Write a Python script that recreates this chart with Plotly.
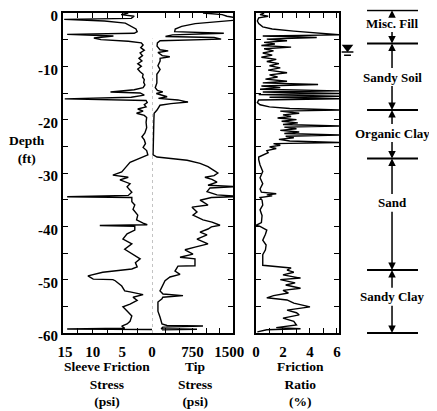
import plotly.graph_objects as go

# ---- values (depth in ft, negative downward) ----
fs_depth = [0.0, -0.3, -0.6, -1.0, -1.2, -1.5, -1.9, -2.4, -3.0, -3.5, -3.8, -4.0, -4.3, -4.7, -5.0,
            -5.3, -5.6, -6.0, -6.5, -7.0, -7.5, -8.0, -8.5, -9.0, -9.5, -10.0, -10.5, -11.0, -11.5,
            -12.0, -12.5, -13.0, -13.5, -14.0, -14.4, -14.8, -15.0, -15.4, -15.8, -16.1, -16.4, -16.8,
            -17.2, -17.6, -18.0, -18.4, -18.8, -19.2, -19.6, -20.5, -21.5, -22.5, -23.2, -23.8, -24.5,
            -25.2, -25.8, -26.6, -27.5, -28.0, -28.9, -29.8, -30.4, -30.8, -31.3, -32.0, -32.6, -33.6,
            -34.2, -34.45, -34.6, -35.4, -36.0, -36.8, -37.9, -38.8, -39.4, -39.7, -39.85, -40.0, -40.7,
            -41.4, -42.4, -43.3, -44.3, -45.2, -46.1, -46.8, -47.6, -48.0, -48.4, -48.6, -49.3, -49.5,
            -49.9, -50.0, -50.2, -51.2, -52.1, -52.3, -52.8, -53.3, -53.9, -54.6, -55.1, -56.1, -56.8,
            -57.8, -58.3, -58.7, -59.1, -59.25, -59.35]
fs_psi = [4.0, 5.2, 3.0, 3.5, 14.8, 8.0, 4.5, 3.6, 2.7, 2.5, 3.0, 14.3, 6.5, 9.8, 8.6,
          4.0, 1.8, 1.5, 1.9, 1.3, 2.0, 1.6, 2.2, 1.7, 2.4, 1.8, 2.4, 2.0, 1.5,
          1.6, 1.3, 1.4, 1.2, 1.5, 3.0, 7.0, 2.0, 1.3, 3.5, 14.7, 1.0, 0.8,
          1.3, 1.0, 2.4, 1.5, 2.6, 1.3, 0.9, 1.0, 0.9, 1.2, 1.7, 1.3, 1.1,
          1.5, 0.9, 0.7, 2.5, 3.7, 4.4, 5.1, 6.6, 4.0, 5.4, 3.7, 4.2, 3.4,
          4.0, 14.3, 3.4, 3.4, 2.9, 3.2, 2.4, 2.6, 1.5, 0.8, 8.8, 2.9, 2.9,
          4.2, 4.9, 3.4, 4.6, 3.4, 2.0, 2.8, 2.5, 3.4, 6.6, 8.3, 10.8, 10.5,
          9.9, 6.6, 6.2, 5.1, 4.6, 3.7, 1.5, 3.2, 2.5, 3.7, 4.9, 4.0, 3.4,
          3.7, 4.2, 5.1, 4.6, 14.3, 0.0]

tip_depth = [0.0, -0.3, -0.6, -1.0, -1.3, -1.6, -2.0, -2.5, -3.0, -3.5, -3.8, -4.1, -4.4, -4.6, -4.9,
             -5.2, -5.6, -6.2, -6.9, -7.1, -7.4, -8.0, -8.2, -8.5, -9.0, -9.9, -10.6, -11.5, -13.1,
             -14.0, -14.5, -14.8, -15.1, -15.7, -16.0, -16.3, -16.7, -17.0, -17.3, -18.2, -18.8, -20.0,
             -22.0, -24.0, -26.0, -26.6, -27.0, -27.3, -27.6, -28.2, -28.8, -29.4, -30.0, -30.5, -30.8,
             -31.2, -31.7, -32.3, -32.55, -32.8, -33.5, -34.1, -34.4, -34.6, -35.1, -35.4, -36.0, -36.4,
             -37.3, -37.9, -38.8, -39.2, -39.8, -40.1, -40.5, -41.1, -41.6, -42.4, -43.3, -43.9, -44.4,
             -45.2, -45.8, -46.1, -47.4, -47.45, -48.4, -49.0, -49.5, -50.2, -51.2, -52.1, -52.7, -53.0,
             -53.3, -53.6, -54.2, -55.9, -57.0, -58.3, -58.6, -58.7, -58.9, -59.2, -59.3, -59.4]
tip_psi = [944, 1300, 1389, 1600, 1600, 1200, 800, 550, 430, 420, 1330, 380, 250, 1150, 1280,
           150, 100, 93, 148, 300, 110, 190, 330, 150, 150, 110, 150, 90, 90,
           60, 100, 200, 80, 280, 120, 480, 667, 350, 148, 93, 40, 35,
           30, 30, 25, 20, 93, 380, 650, 890, 1037, 1130, 1220, 1150, 980,
           1110, 1204, 1037, 1600, 1074, 1019, 1204, 1600, 1100, 889, 944, 1037, 741,
           833, 759, 944, 1111, 1259, 1100, 1037, 889, 1019, 833, 1037, 796, 611,
           759, 519, 796, 796, 481, 426, 519, 333, 241, 185, 148, 204, 574,
           200, 185, 110, 110, 148, 185, 278, 944, 200, 170, 833, 185]

rf_depth = [0.0, -0.3, -0.6, -0.9, -1.5, -2.0, -2.6, -3.0, -3.4, -3.8, -4.1, -4.3, -4.6, -4.9, -5.2,
            -5.5, -5.8, -6.1, -6.4, -6.7, -7.1, -7.5, -7.9, -8.3, -8.7, -9.1, -9.5, -9.9, -10.3,
            -10.7, -11.2, -11.6, -12.0, -12.4, -12.8, -13.1, -13.4, -13.7, -14.0, -14.3, -14.6, -14.8,
            -15.1, -15.3, -15.6, -15.8, -16.1, -16.3, -16.8, -17.2, -17.6, -17.9, -18.2, -18.4, -18.8,
            -19.1, -19.4, -19.7, -20.0, -20.3, -20.6, -20.9, -21.2, -21.4, -21.7, -22.0, -22.3, -22.6,
            -22.9, -23.1, -23.4, -23.7, -24.0, -24.3, -24.5, -24.8, -25.1, -25.4, -25.8, -26.2, -26.6,
            -27.0, -27.5, -28.5, -29.7, -30.9, -32.0, -33.0, -33.6, -33.9, -34.1, -34.3, -34.6, -35.1,
            -36.0, -36.9, -38.0, -39.3, -39.8, -40.0, -40.7, -41.5, -42.6, -43.5, -44.4, -45.3, -46.3,
            -47.3, -47.8, -48.2, -48.6, -49.1, -49.7, -50.0, -50.6, -51.0, -51.6, -52.0, -52.5, -53.0,
            -53.4, -53.8, -54.4, -55.1, -55.7, -56.2, -56.6, -57.2, -57.8, -58.5, -59.0, -59.2, -59.4,
            -59.8]
rf_pct = [0.6, 0.3, 0.9, 0.2, 0.1, 0.2, 0.5, 1.2, 2.8, 5.0, 6.3, 0.5, 4.5, 0.8, 2.3,
          0.6, 1.4, 0.4, 2.6, 0.6, 1.3, 0.5, 1.2, 0.4, 1.5, 0.8, 1.7, 1.0, 1.8,
          0.9, 2.3, 1.0, 1.6, 0.7, 2.3, 0.5, 4.6, 0.4, 1.8, 0.3, 6.3, 0.5,
          6.3, 0.2, 6.3, 1.0, 6.3, 0.2, 0.1, 0.3, 1.0, 2.5, 6.3, 1.8, 3.2,
          2.0, 2.6, 1.6, 3.0, 1.9, 3.1, 2.0, 6.3, 2.1, 3.0, 1.8, 3.2, 2.1,
          6.3, 2.2, 2.8, 1.7, 2.5, 6.3, 1.3, 1.8, 1.0, 1.5, 0.8, 0.9, 0.5,
          0.2, 0.2, 0.3, 0.5, 0.3, 0.5, 0.3, 0.4, 1.5, 0.8, 1.2, 0.3, 0.45,
          0.5, 0.3, 0.45, 0.4, 0.0, 0.3, 0.8, 0.7, 0.5, 0.75, 0.7, 0.5, 0.5,
          0.5, 2.6, 2.3, 2.8, 2.0, 3.3, 1.8, 2.9, 2.2, 3.3, 2.0, 2.4, 1.3,
          0.8, 2.3, 2.8, 4.0, 2.3, 3.0, 3.2, 2.0, 2.8, 3.0, 1.5, 3.3, 0.8,
          0.1]

layer_names = ["Misc. Fill", "Sandy Soil", "Organic Clay", "Sand", "Sandy Clay"]
layer_label_depth = [-1.9, -12.0, -22.5, -35.6, -53.2]
layer_bounds = [0.5, -5.7, -18.2, -27.3, -48.2, -60.0]
water_table_depth = -6.4

depth_ticks = [0, -5, -10, -15, -20, -25, -30, -35, -40, -45, -50, -55, -60]
depth_ticktext = ["0", "", "-10", "", "-20", "", "-30", "", "-40", "", "-50", "", "-60"]
fs_ticks = [15, 12.5, 10, 7.5, 5, 2.5, 0]
fs_ticktext = ["\u00a015", "", "10", "", "5", "", "0"]
tip_ticks = [0, 250, 500, 750, 1000, 1250, 1500]
tip_ticktext = ["", "", "", "750", "", "", "1500\u00a0\u00a0"]
rf_ticks = [0, 1, 2, 3, 4, 5, 6]
rf_ticktext = ["0", "", "2", "", "4", "", "6"]

# ---- layout geometry, in pixels of the 437x411 window ----
# the page body keeps its default 8px margin, so the figure starts at (8, 8)
PAGE = 8
W, H = 437 - PAGE, 411 - PAGE


def px(x):
    return (x - PAGE) / W


def py(y):
    return 1 - (y - PAGE) / H


FONT = dict(family="Liberation Serif, Times New Roman, serif", size=15, color="black", weight="bold")
Y_DOMAIN = [py(333), py(13)]

axis_common = dict(
    showline=True, linecolor="black", linewidth=2, ticks="inside", ticklen=5,
    tickwidth=1.3, tickcolor="black", showgrid=False, zeroline=False,
    tickfont=FONT, tickmode="array", automargin=False, ticklabeloverflow="allow",
)

fig = go.Figure()
line_style = dict(color="black", width=1.4)

fig.add_trace(go.Scatter(x=fs_psi, y=fs_depth, xaxis="x", yaxis="y", mode="lines", line=line_style))
fig.add_trace(go.Scatter(x=tip_psi, y=tip_depth, xaxis="x2", yaxis="y3", mode="lines", line=line_style))
fig.add_trace(go.Scatter(x=rf_pct, y=rf_depth, xaxis="x3", yaxis="y2", mode="lines", line=line_style))

# soil profile column (x4 spans 339..437 px, range 0..1)
CX, LX0, LX1, WTX = 0.541, 0.286, 0.806, 0.087
bx, by = [], []
for b in layer_bounds:
    bx += [LX0, LX1, None]
    by += [b, b, None]
fig.add_trace(go.Scatter(x=bx, y=by, xaxis="x4", yaxis="y4", mode="lines",
                         line=dict(color="black", width=2)))

# water table symbol
fig.add_trace(go.Scatter(x=[WTX], y=[water_table_depth], xaxis="x4", yaxis="y4", mode="markers",
                         marker=dict(symbol="triangle-down", size=10, color="black")))
fig.add_trace(go.Scatter(
    x=[WTX - 0.06, WTX + 0.06, None, WTX - 0.035, WTX + 0.035],
    y=[water_table_depth - 0.9, water_table_depth - 0.9, None,
       water_table_depth - 1.5, water_table_depth - 1.5],
    xaxis="x4", yaxis="y4", mode="lines", line=dict(color="black", width=1.5)))

annotations = []
gap = 1.4
for i, name in enumerate(layer_names):
    lab = layer_label_depth[i]
    annotations.append(dict(x=CX, y=lab, xref="x4", yref="y4", text=name, showarrow=False,
                            font=dict(FONT, size=13)))
    for head, tail in ((layer_bounds[i], lab + gap), (layer_bounds[i + 1], lab - gap)):
        annotations.append(dict(x=CX, y=head, ax=CX, ay=tail, xref="x4", yref="y4",
                                axref="x4", ayref="y4", text="", showarrow=True,
                                arrowhead=2, arrowsize=1, arrowwidth=1.5, arrowcolor="black",
                                standoff=0, startstandoff=0))

# axis titles
titles = [
    ("Depth<br>(ft)", 27, 149),
    ("Sleeve Friction<br>Stress<br>(psi)", 107, 384),
    ("Tip<br>Stress<br>(psi)", 195, 384),
    ("Friction<br>Ratio<br>(%)", 300, 384),
]
for t, x, y in titles:
    annotations.append(dict(x=px(x), y=py(y), xref="paper", yref="paper", text=t,
                            showarrow=False, font=dict(FONT, size=13.5),
                            xanchor="center", yanchor="middle"))

fig.update_layout(
    width=W, height=H, margin=dict(l=0, r=0, t=0, b=0),
    paper_bgcolor="white", plot_bgcolor="white", showlegend=False,
    xaxis=dict(axis_common, domain=[px(63), px(152)], range=[15, 0], anchor="y",
               mirror="ticks", tickvals=fs_ticks, ticktext=fs_ticktext, ticklabelstandoff=4),
    xaxis2=dict(axis_common, domain=[px(152), px(233)], range=[0, 1500], anchor="y3",
                mirror="ticks", tickvals=tip_ticks, ticktext=tip_ticktext, ticklabelstandoff=4),
    xaxis3=dict(axis_common, domain=[px(256), px(339)], range=[0, 6.15], anchor="y2",
                mirror="ticks", tickvals=rf_ticks, ticktext=rf_ticktext, ticklabelstandoff=4),
    xaxis4=dict(domain=[px(339), 1.0], range=[0, 1], anchor="y4", visible=False),
    yaxis=dict(axis_common, domain=Y_DOMAIN, range=[-60, 0], anchor="x",
               tickvals=depth_ticks, ticktext=depth_ticktext, ticklabelshift=3),
    yaxis3=dict(axis_common, domain=Y_DOMAIN, range=[-60, 0], anchor="x2", side="right",
                tickvals=depth_ticks, showticklabels=False),
    yaxis2=dict(axis_common, domain=Y_DOMAIN, range=[-60, 0], anchor="x3", mirror="ticks",
                tickvals=depth_ticks, showticklabels=False),
    yaxis4=dict(domain=[py(335.7), py(9.8)], range=[-60.5, 0.6], anchor="x4", visible=False),
    annotations=annotations,
    shapes=[dict(type="line", xref="x2", yref="y3 domain", x0=0, x1=0, y0=0, y1=0.92,
                 line=dict(color="#888888", width=1, dash="dot"))],
)

fig.write_html("out.html")
